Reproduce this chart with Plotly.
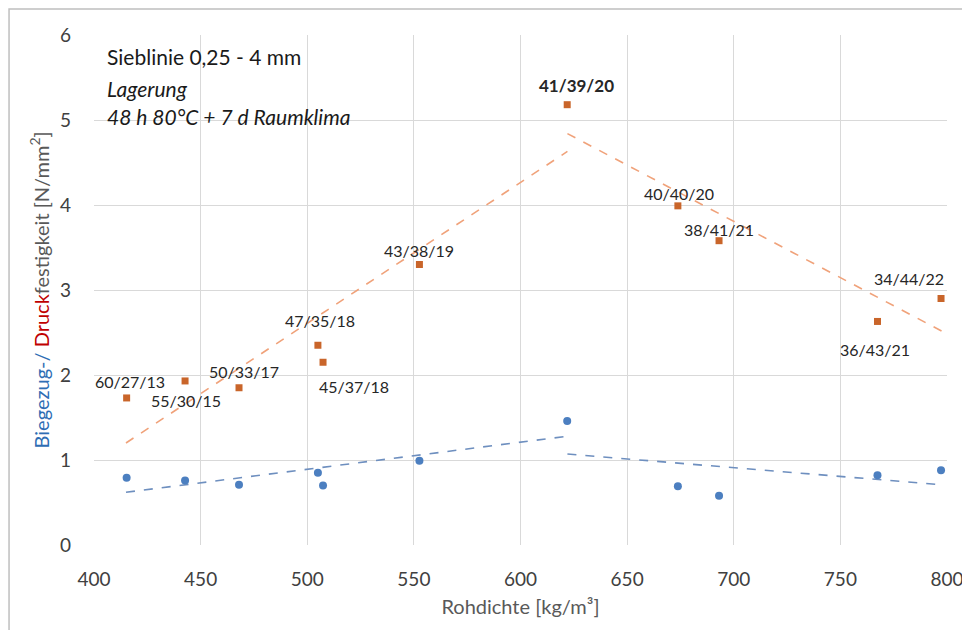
import plotly.graph_objects as go

# Data
rohdichte = [415.3, 442.7, 468.0, 505.0, 507.4, 552.6, 621.9, 673.8, 693.1, 767.4, 797.2]
druck = [1.73, 1.93, 1.85, 2.35, 2.15, 3.30, 5.18, 3.99, 3.58, 2.63, 2.90]
biegezug = [0.79, 0.76, 0.71, 0.85, 0.70, 0.99, 1.46, 0.69, 0.58, 0.82, 0.88]
labels = ["60/27/13", "55/30/15", "50/33/17", "47/35/18", "45/37/18", "43/38/19",
          "<b>41/39/20</b>", "40/40/20", "38/41/21", "36/43/21", "34/44/22"]
# label offsets (pixels) relative to point
label_dx = [3, 1, 5, 2, 31, 0, 9, 1, 0, -2, -32]
label_dy = [-16, 20, -16, -25, 24, -14, -19, -12, -11, 28, -20]
label_sizes = [16, 16, 16, 16, 16, 16, 17, 16, 16, 16, 16]

info_lines = ["Sieblinie 0,25 - 4 mm", "<i>Lagerung</i>", "<i>48 h 80°C + 7 d Raumklima</i>"]
info_y = [0.957, 0.896, 0.841]

# Trend line end points
trend_druck_left_x = [415, 622]
trend_druck_left_y = [1.20, 4.63]
trend_druck_right_x = [622, 798]
trend_druck_right_y = [4.84, 2.51]
trend_bz_left_x = [415, 622]
trend_bz_left_y = [0.62, 1.28]
trend_bz_right_x = [622, 797]
trend_bz_right_y = [1.07, 0.71]

x_ticks = [400, 450, 500, 550, 600, 650, 700, 750, 800]
y_ticks = [0, 1, 2, 3, 4, 5, 6]

ORANGE = "#C9652A"
BLUE = "#4C7FC0"
FONT = "Lato"

fig = go.Figure()
for tx, ty, col in [(trend_druck_left_x, trend_druck_left_y, "#F0A27A"),
                    (trend_druck_right_x, trend_druck_right_y, "#F0A27A"),
                    (trend_bz_left_x, trend_bz_left_y, "#6E8FBF"),
                    (trend_bz_right_x, trend_bz_right_y, "#6E8FBF")]:
    fig.add_trace(go.Scatter(x=tx, y=ty, mode="lines",
                             line=dict(color=col, width=1.6, dash="dash"),
                             hoverinfo="skip", showlegend=False))

fig.add_trace(go.Scatter(x=rohdichte, y=druck, mode="markers",
                         marker=dict(symbol="square", size=7, color=ORANGE),
                         showlegend=False, name="Druckfestigkeit"))
fig.add_trace(go.Scatter(x=rohdichte, y=biegezug, mode="markers",
                         marker=dict(symbol="circle", size=8, color=BLUE),
                         showlegend=False, name="Biegezugfestigkeit"))

for x, y, t, dx, dy, fs in zip(rohdichte, druck, labels, label_dx, label_dy, label_sizes):
    fig.add_annotation(x=x, y=y, text=t, showarrow=False, xshift=dx, yshift=-dy,
                       font=dict(family=FONT, size=fs, color="#262626"))

for t, yy in zip(info_lines, info_y):
    fig.add_annotation(xref="paper", yref="paper", x=0.013, y=yy, xanchor="left", yanchor="middle",
                       align="left", showarrow=False, text=t,
                       font=dict(family=FONT, size=21, color="#1a1a1a"))

# y-axis title with coloured parts
fig.add_annotation(xref="paper", yref="paper", x=-0.064, y=0.5, textangle=-90,
                   showarrow=False, xanchor="center", yanchor="middle",
                   text="<span style='color:#2E6DB4'>Biegezug-/</span> "
                        "<span style='color:#C00000'>Druck</span>festigkeit [N/mm<sup>2</sup>]",
                   font=dict(family=FONT, size=20, color="#595959"))

fig.add_shape(type="rect", xref="paper", yref="paper", x0=-0.0996, x1=1.05, y0=-0.25, y1=1.051,
              line=dict(color="#BFBFBF", width=1.5), layer="below")

fig.update_xaxes(range=[400, 800], tickvals=x_ticks, showgrid=True, gridcolor="#D9D9D9",
                 gridwidth=1, zeroline=False, showline=False, ticks="",
                 tickfont=dict(family=FONT, size=19, color="#404040"), ticklabelstandoff=21,
                 ticklabeloverflow="allow", automargin=False,
                 title=dict(text="Rohdichte [kg/m³]", font=dict(family=FONT, size=20, color="#595959"),
                            standoff=10))
fig.update_yaxes(range=[0, 6], tickvals=y_ticks, showgrid=True, gridcolor="#D9D9D9",
                 gridwidth=1, zeroline=False, showline=False, ticks="",
                 automargin=False,
                 tickfont=dict(family=FONT, size=19, color="#404040"), ticklabelstandoff=22)

fig.update_layout(width=962, height=622, margin=dict(l=86, r=23, t=27, b=85),
                  plot_bgcolor="white", paper_bgcolor="white", showlegend=False)

fig.write_html("out.html")
